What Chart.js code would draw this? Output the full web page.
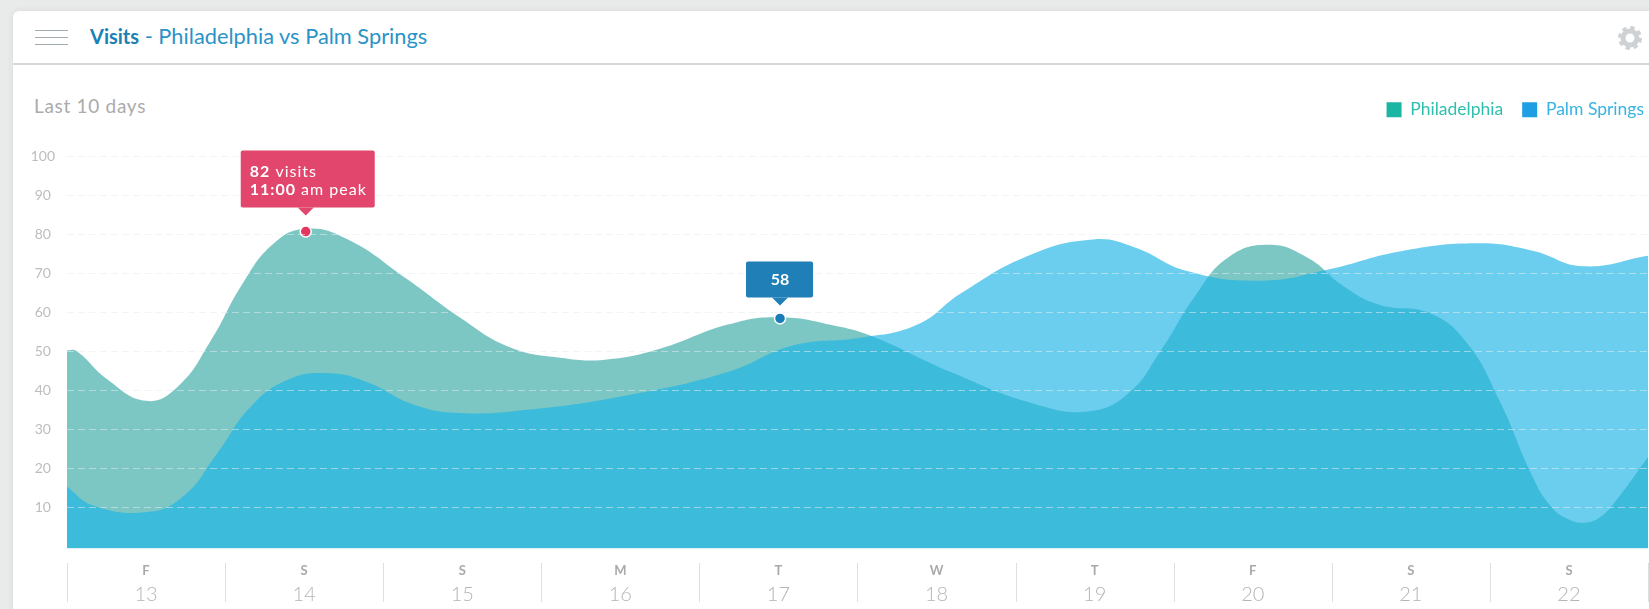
<!DOCTYPE html>
<html>
<head>
<meta charset="utf-8">
<script src="https://cdn.jsdelivr.net/npm/chart.js@4"></script>
<style>
html,body{margin:0;padding:0;width:1649px;height:609px;overflow:hidden;background:#e9ebea;font-family:Lato,sans-serif}
#card{position:absolute;left:13px;top:11px;width:1700px;height:700px;background:#fff;border-radius:6px 0 0 0;box-shadow:0 0 7px rgba(0,0,0,.08)}
#rule{position:absolute;left:13px;top:63px;width:1640px;height:2px;background:#d4d8d8}
.bar{position:absolute;left:35px;width:33px;height:1px;background:#a3adb1}
#title{position:absolute;left:90px;top:23px;font-size:21.8px;line-height:26px;color:#2b93c6;white-space:nowrap}
#title b{color:#1a80b6;font-weight:700;font-size:20px}
#sub{position:absolute;left:34px;top:95px;font-size:19px;line-height:22px;color:#ababab;letter-spacing:.7px}
#gear{position:absolute;left:1617px;top:25px}
canvas{position:absolute;left:0;top:0}
</style>
</head>
<body>
<div id="card"></div>
<div id="rule"></div>
<div class="bar" style="top:30px"></div><div class="bar" style="top:37px"></div><div class="bar" style="top:44px"></div>
<div id="title"><b>Visits</b> - Philadelphia vs Palm Springs</div>
<div id="sub">Last 10 days</div>
<svg id="gear" width="26" height="26" viewBox="0 0 26 26"><circle cx="13" cy="13" r="10" fill="none" stroke="#cfd2d4" stroke-width="4" stroke-dasharray="4.2 3.65"/><circle cx="13" cy="13" r="7" fill="none" stroke="#cfd2d4" stroke-width="5"/></svg>
<div style="position:absolute;left:0;top:0;width:1649px;height:609px;overflow:hidden"><canvas id="c" width="1663" height="609" style="width:1663px;height:609px"></canvas></div>
<script>
const weekdays = ['F','S','S','M','T','W','T','F','S','S'];
const dates = ['13','14','15','16','17','18','19','20','21','22'];
const yTicks = [10,20,30,40,50,60,70,80,90,100];

const phillyDays = [0,.06,.25,.5,.7,.91,1.11,1.3,1.5,1.77,2.15,2.49,2.8,3.12,3.4,3.75,4.18,4.5,4.85,5.1,5.59,6.11,6.46,6.71,6.92,7.13,7.34,7.6,7.85,8.07,8.3,8.62,8.85,9.06,9.27,9.38,9.49,9.6,9.7,9.8,10];
const phillyVisits = [50.3,50.1,43.0,37.3,40.9,52.8,67.4,77.5,81.5,78.9,68.6,58.6,51.1,48.4,47.9,50.7,56.9,58.8,56.7,53.8,44.7,36.6,34.6,39.1,50.3,63.9,74,77.4,74,66.9,62,59.8,52.4,37.4,17.8,10.5,7,6,7.5,11.8,22.9];
const palmDays = [0,.16,.5,.73,.95,1.16,1.39,1.65,1.9,2.19,2.49,2.91,3.54,4.18,4.59,5.02,5.38,5.65,6.08,6.49,6.75,7.09,7.55,7.97,8.43,8.92,9.27,9.59,10];
const palmVisits = [15.2,10.5,8.7,12.6,23.8,35.7,42.6,44.4,42.1,36.4,34.2,35,38.7,44.7,51.5,53.5,56.9,64.8,74.6,78.8,76.8,70.6,68.2,71,75.7,77.8,75.9,71.9,74.6];
const zip = (xs, ys) => xs.map((x, i) => ({x, y: ys[i]}));

const peakRed = {x: 1.51, y: 80.8, lines: [['82',' visits'],['11:00',' am peak']]};
const peakBlue = {x: 4.51, y: 58.5, text: '58'};

const FONT = 'Lato, sans-serif';

const overlay = {
  id: 'overlay',
  afterDraw(chart) {
    const {ctx, scales: {x, y}} = chart;
    ctx.save();
    ctx.strokeStyle = '#dfdfdf'; ctx.lineWidth = 1;
    for (let d = 0; d <= 10; d++) {
      const px = Math.round(x.getPixelForValue(d)) + .5;
      ctx.beginPath(); ctx.moveTo(px, 563); ctx.lineTo(px, 602); ctx.stroke();
    }
    const box = (px, py, l, r, t, h, color) => {
      const top = py - t, bottom = top + h;
      ctx.fillStyle = color;
      ctx.beginPath(); ctx.roundRect(px - l, top, l + r, h, 2); ctx.fill();
      ctx.beginPath(); ctx.moveTo(px - 8, bottom); ctx.lineTo(px, bottom + 8); ctx.lineTo(px + 8, bottom); ctx.fill();
    };
    let px = x.getPixelForValue(peakRed.x), py = y.getPixelForValue(peakRed.y);
    box(px, py, 65, 69, 81, 57, '#e2466d');
    ctx.fillStyle = '#fff'; ctx.textBaseline = 'alphabetic'; ctx.textAlign = 'left';
    ctx.letterSpacing = '1px';
    peakRed.lines.forEach((ln, i) => {
      const ty = py - 55 + i * 18, tx = px - 56;
      ctx.font = '700 16px ' + FONT; ctx.fillText(ln[0], tx, ty);
      const w = ctx.measureText(ln[0]).width;
      ctx.font = '400 16px ' + FONT; ctx.fillText(ln[1], tx + w, ty);
    });
    ctx.letterSpacing = '0px';
    px = x.getPixelForValue(peakBlue.x); py = y.getPixelForValue(peakBlue.y);
    box(px, py, 34, 33, 57, 36, '#1f7fb6');
    ctx.fillStyle = '#fff'; ctx.textAlign = 'center'; ctx.textBaseline = 'middle';
    ctx.font = '700 16px ' + FONT; ctx.fillText(peakBlue.text, px, py - 39);
    ctx.restore();
  }
};

const PX_PER_DAY = 158.1;
const legendColors = [
  {text: 'Philadelphia', box: '#1ab5a3', font: '#2fbfae'},
  {text: 'Palm Springs', box: '#1f9fe3', font: '#38b3e3'}
];
const dayTicks = s => { s.ticks = dates.map((_, i) => ({value: i + .5})); };

new Chart(document.getElementById('c'), {
  type: 'line',
  plugins: [overlay],
  data: {
    datasets: [
      {label: 'Philadelphia', data: zip(phillyDays, phillyVisits), order: 2, fill: 'start',
       backgroundColor: 'rgba(37,162,157,.6)', borderWidth: 0, pointRadius: 0, tension: .45},
      {label: 'Palm Springs', data: zip(palmDays, palmVisits), order: 1, fill: 'start',
       backgroundColor: 'rgba(28,180,231,.65)', borderWidth: 0, pointRadius: 0, tension: .45},
      {label: 'peak', data: [{x: peakRed.x, y: peakRed.y}], order: 0, showLine: false, pointRadius: 5.5,
       pointBackgroundColor: '#e2375f', pointBorderColor: '#fff', pointBorderWidth: 1.5},
      {label: 'current', data: [{x: peakBlue.x, y: peakBlue.y}], order: 0, showLine: false, pointRadius: 5.5,
       pointBackgroundColor: '#1a7db8', pointBorderColor: '#fff', pointBorderWidth: 1.5}
    ]
  },
  options: {
    responsive: false,
    animation: false,
    events: [],
    layout: {autoPadding: false, padding: {top: 82, left: 0, right: 0, bottom: 0}},
    plugins: {
      tooltip: {enabled: false},
      title: {display: false},
      legend: {
        position: 'top', align: 'end',
        labels: {
          boxWidth: 15, boxHeight: 15, padding: 19,
          font: {family: FONT, size: 17.5},
          generateLabels: () => legendColors.map(l => ({
            text: l.text, fillStyle: l.box, strokeStyle: l.box, lineWidth: 0, fontColor: l.font, hidden: false
          }))
        }
      }
    },
    scales: {
      x: {
        type: 'linear', position: 'bottom', weight: 0,
        min: 0, max: 1596 / PX_PER_DAY,
        afterBuildTicks: dayTicks,
        afterFit: s => { s.height = 28; },
        grid: {display: false, drawTicks: false}, border: {display: false},
        ticks: {autoSkip: false, maxRotation: 0, padding: 15, color: '#a9a9a9',
          font: {family: FONT, size: 13, weight: '700'},
          callback: (v, i) => weekdays[i]}
      },
      xDate: {
        type: 'linear', position: 'bottom', weight: 1,
        min: 0, max: 1596 / PX_PER_DAY,
        afterBuildTicks: dayTicks,
        afterFit: s => { s.height = 32.5; },
        grid: {display: false, drawTicks: false}, border: {display: false},
        ticks: {autoSkip: false, maxRotation: 0, padding: 6, color: '#b5b5b5',
          font: {family: FONT, size: 20, weight: '300'},
          callback: (v, i) => dates[i]}
      },
      y: {
        type: 'linear', position: 'left',
        min: -0.64, max: 107.3,
        afterBuildTicks: s => { s.ticks = yTicks.map(value => ({value})); },
        afterFit: s => { s.width = 67; },
        border: {display: false, dash: [7, 4]},
        grid: {z: 1, color: 'rgba(228,236,240,.55)', drawTicks: false, lineWidth: 1},
        ticks: {padding: 12, crossAlign: 'center', color: '#bdbdbd', font: {family: FONT, size: 14}}
      }
    }
  }
});
</script>
</body>
</html>
